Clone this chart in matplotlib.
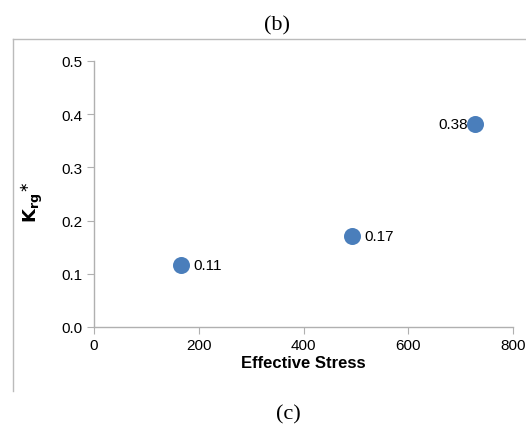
import matplotlib
matplotlib.use("Agg")
import matplotlib.pyplot as plt
from matplotlib.lines import Line2D

stress = [166, 493, 727]
krg = [0.116, 0.171, 0.382]
labels = ["0.11", "0.17", "0.38"]
label_side = ["right", "right", "left"]

plt.rcParams['font.family'] = ['Liberation Sans', 'DejaVu Sans']

fig = plt.figure(figsize=(5.26, 4.27), dpi=100)
ax = fig.add_axes([94 / 526, 1 - 328 / 427, 419 / 526, 266 / 427])

ax.scatter(stress, krg, s=150, color="#4a7ebb", zorder=3, linewidths=0)
for x, y, t, side in zip(stress, krg, labels, label_side):
    if side == "right":
        ax.annotate(t, (x, y), xytext=(9, 0), textcoords="offset points",
                    va="center", ha="left", fontsize=11)
    else:
        ax.annotate(t, (x, y), xytext=(-5, 0), textcoords="offset points",
                    va="center", ha="right", fontsize=11)

ax.set_xlim(0, 800)
ax.set_ylim(0, 0.5)
ax.set_xticks([0, 200, 400, 600, 800])
ax.set_yticks([0.0, 0.1, 0.2, 0.3, 0.4, 0.5])
ax.set_yticklabels(["0.0", "0.1", "0.2", "0.3", "0.4", "0.5"])
for s in ["top", "right"]:
    ax.spines[s].set_visible(False)
for s in ["left", "bottom"]:
    ax.spines[s].set_color("#b0b0b0")
    ax.spines[s].set_linewidth(1)
ax.tick_params(direction="out", length=5, color="#b0b0b0", labelsize=11, pad=3)
ax.set_xlabel("Effective Stress", fontsize=12, fontweight="bold", labelpad=2)
ax.set_ylabel(r"$\mathbf{K_{rg}}^{\ast}$", fontsize=13)
ax.yaxis.set_label_coords(-0.118, 0.47)

# outer frame of the embedded chart
fig.add_artist(Line2D([13 / 526, 13 / 526], [1 - 40 / 427, 1 - 392 / 427],
                      transform=fig.transFigure, color="#bbbbbb", lw=1))
fig.add_artist(Line2D([13 / 526, 1.0], [1 - 40 / 427, 1 - 40 / 427],
                      transform=fig.transFigure, color="#bbbbbb", lw=1))

fig.text(277 / 526, 1 - 26 / 427, "(b)", ha="center", va="center",
         fontsize=16, family=["Liberation Serif"])
fig.text(288 / 526, 1 - 415 / 427, "(c)", ha="center", va="center",
         fontsize=16, family=["Liberation Serif"])

fig.savefig("out.png", dpi=100)
